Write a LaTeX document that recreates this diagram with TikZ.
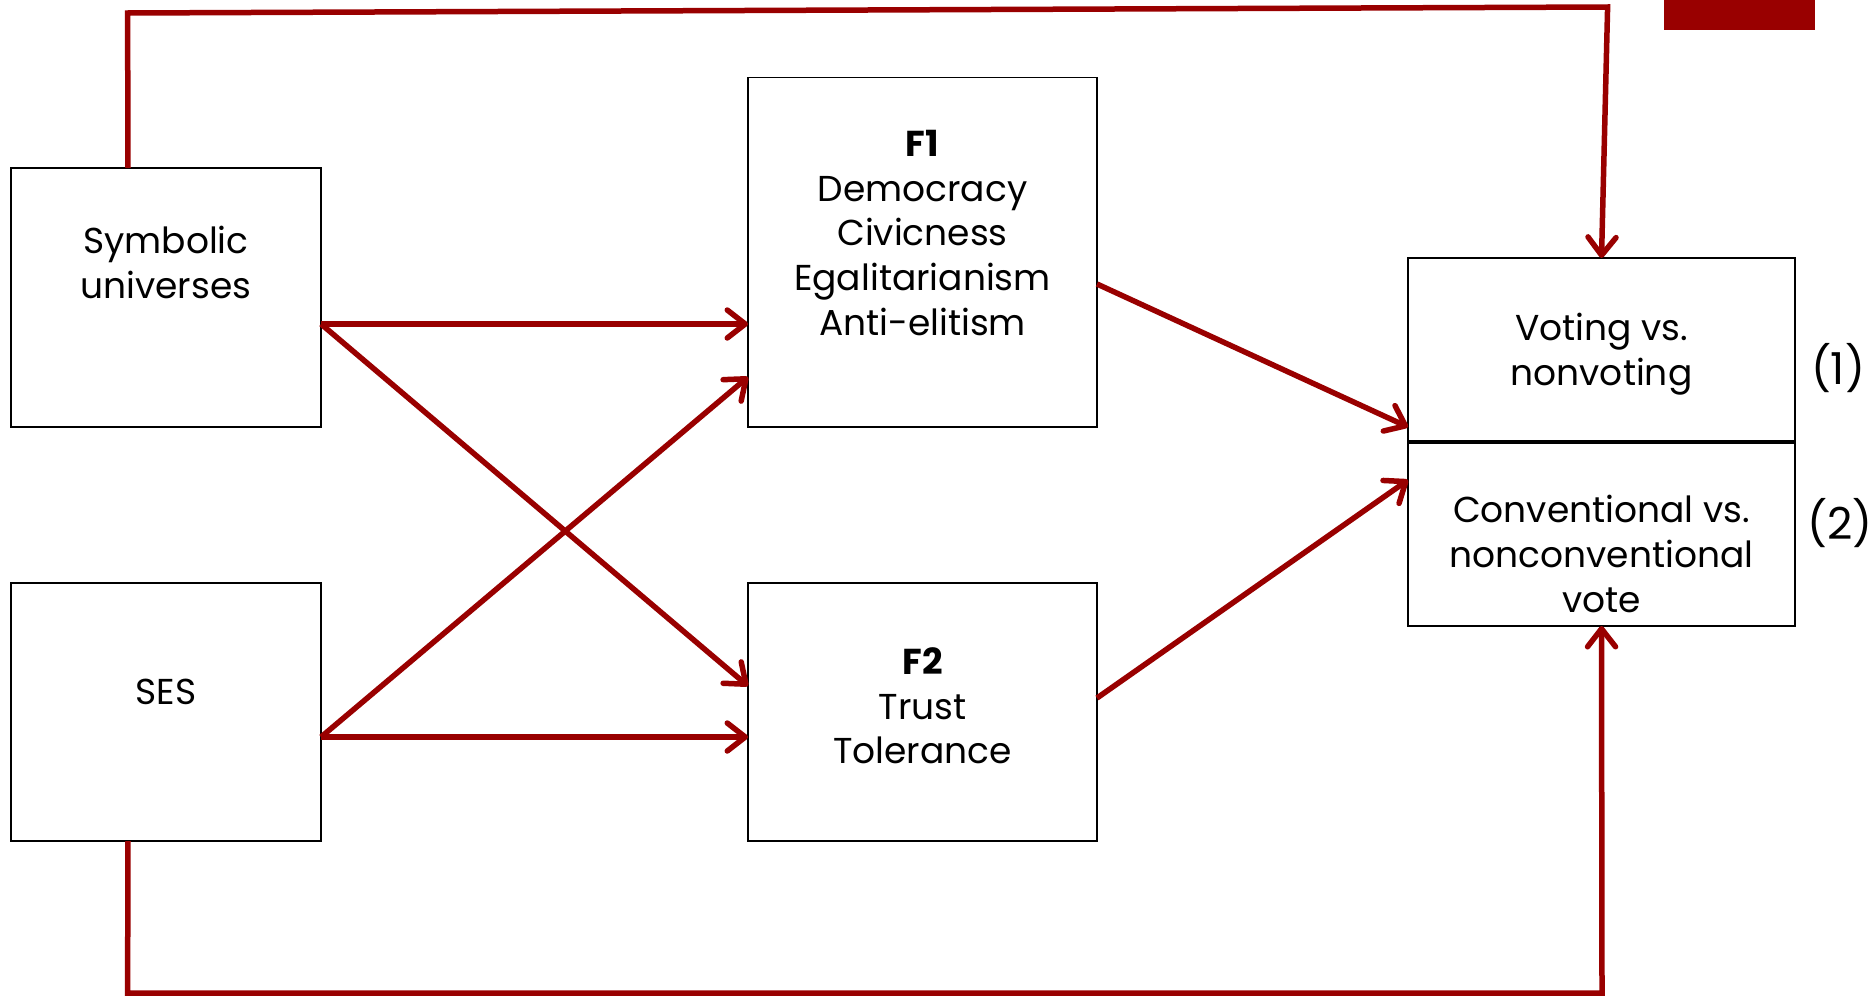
\documentclass[tikz,border=0pt]{standalone}
\usepackage{fontspec}
\setmainfont{Poppins}
\usetikzlibrary{arrows.meta,calc}
\definecolor{dred}{HTML}{990000}
\tikzset{
  box/.style={draw=black,line width=1.8pt,rectangle,inner sep=0pt,outer sep=0pt,fill=white},
  txt/.style={align=center,inner sep=0pt,font=\fontsize{36}{44.7}\selectfont},
  numtxt/.style={inner sep=0pt,font=\fontsize{44}{50}\selectfont},
  conn/.style={draw=dred,line width=5.5pt,-{Straight Barb[length=18pt,width=28pt,round]}},
  loopline/.style={draw=dred,line width=5.5pt,line join=miter,-{Straight Barb[length=18pt,width=28pt,round]}}
}
\begin{document}
\begin{tikzpicture}[x=1pt,y=-1pt]
\useasboundingbox (0,0) rectangle (1870,996);
\fill[dred] (1664,0) rectangle (1815,30);
% boxes
\node[box,minimum width=310.3pt,minimum height=259pt] (su) at (165.9,297.5) {};
\node[box,minimum width=310.3pt,minimum height=258pt] (ses) at (165.9,712) {};
\node[box,minimum width=349pt,minimum height=349.5pt] (f1) at (922.5,252.25) {};
\node[box,minimum width=349pt,minimum height=258pt] (f2) at (922.5,712) {};
\node[box,minimum width=387pt,minimum height=184pt] (rb1) at (1601.5,350) {};
\node[box,minimum width=387pt,minimum height=184pt] (rb2) at (1601.5,534) {};
\draw[line width=4.5pt] (rb1.south west) -- (rb1.south east);
% texts
\node[txt] (tsu) at (165.9,262.5) {Symbolic\\universes};
\node[txt] (tses) at (165.9,692) {SES};
\node[txt] (tf1) at (922.5,233) {\textbf{F1}\\Democracy\\Civicness\\Egalitarianism\\Anti-elitism};
\node[txt] (tf2) at (922.5,706) {\textbf{F2}\\Trust\\Tolerance};
\node[txt] (trb1) at (1601.5,354) {Voting vs.\\nonvoting};
\node[txt] (trb2) at (1601.5,554) {Conventional vs.\\nonconventional\\vote};
\node[numtxt] (n1) at (1838,368) {(1)};
\node[numtxt] (n2) at (1840,523) {(2)};
% connectors
\draw[conn] ([yshift=-26.5pt]su.east) -- ([yshift=-71.75pt]f1.west);
\draw[conn] ([yshift=-26.5pt]su.east) -- ([yshift=26pt]f2.west);
\draw[conn] ([yshift=-25pt]ses.east) -- ([yshift=-124.75pt]f1.west);
\draw[conn] ([yshift=-25pt]ses.east) -- ([yshift=-25pt]f2.west);
\draw[conn] ([yshift=-31.75pt]f1.east) -- ([yshift=-77pt]rb1.west);
\draw[conn] ([yshift=14pt]f2.east) -- ([yshift=54pt]rb2.west);
\draw[loopline] ([xshift=-37.9pt]su.north) -- (127.6,13) -- (1607.6,7) -- (rb1.north);
\draw[loopline] ([xshift=-37.9pt]ses.south) -- (127.6,993) -- (1602,993) -- (rb2.south);
\end{tikzpicture}
\end{document}
